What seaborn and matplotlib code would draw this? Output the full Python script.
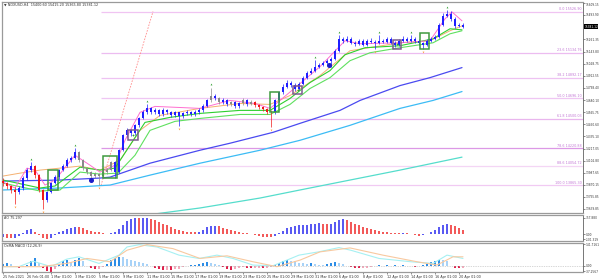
import matplotlib
matplotlib.use("Agg")
import matplotlib.pyplot as plt
import matplotlib.transforms as mtransforms
from matplotlib.patches import Rectangle
import numpy as np
import seaborn as sns

sns.set_theme(style="white")
plt.rcParams["font.family"] = ["DejaVu Sans"]

# ---------------- data ----------------
symbol_title = "\u25bc NDXUSD,H4  15400.60 15415.20 15365.80 15381.12"
first_open = 13910
close = [
    13887, 13859, 13821, 13802, 13840, 13935, 14011, 14049, 13963, 13821,
    13725, 13802, 13887, 13944, 14011, 14049, 14106, 14125, 14182, 14106,
    14030, 13992, 13954, 13973, 13954, 13992, 14011, 14087, 13992, 14201,
    14344, 14391, 14363, 14439, 14505, 14563, 14601, 14563, 14582, 14543,
    14582, 14563, 14534, 14563, 14524, 14553, 14563, 14543, 14563, 14582,
    14620, 14677, 14724, 14696, 14658, 14677, 14639, 14658, 14620, 14648,
    14677, 14639, 14658, 14629, 14610, 14591, 14563, 14563, 14677, 14753,
    14810, 14848, 14829, 14791, 14838, 14895, 14943, 14962, 15000, 15019,
    15038, 15057, 15076, 15152, 15267, 15248, 15267, 15228, 15219, 15248,
    15209, 15248, 15238, 15228, 15248, 15238, 15267, 15228, 15209, 15248,
    15267, 15248, 15267, 15248, 15228, 15209, 15248, 15267, 15286, 15400,
    15485, 15504, 15457, 15390, 15400, 15381]
high = [
    13935, 13900, 13872, 13845, 13860, 13950, 14030, 14085, 14060, 13975,
    13835, 13815, 13900, 13965, 14025, 14070, 14125, 14150, 14220, 14195,
    14120, 14045, 14005, 13990, 13985, 14010, 14030, 14100, 14095, 14215,
    14360, 14410, 14400, 14455, 14520, 14590, 14640, 14610, 14600, 14595,
    14600, 14595, 14575, 14580, 14570, 14570, 14585, 14580, 14585, 14600,
    14640, 14695, 14800, 14740, 14710, 14700, 14690, 14675, 14670, 14665,
    14700, 14690, 14680, 14670, 14640, 14625, 14600, 14590, 14690, 14770,
    14830, 14870, 14865, 14840, 14850, 14910, 14960, 14985, 15060, 15035,
    15055, 15075, 15090, 15170, 15300, 15285, 15290, 15280, 15245, 15265,
    15260, 15262, 15270, 15255, 15300, 15265, 15285, 15280, 15245, 15265,
    15295, 15285, 15300, 15280, 15260, 15240, 15262, 15285, 15305, 15420,
    15510, 15540, 15530, 15470, 15420, 15415]
low = [
    13860, 13830, 13790, 13690, 13780, 13825, 13920, 13995, 13940, 13800,
    13640, 13710, 13790, 13875, 13930, 14000, 14040, 14090, 14115, 14090,
    14015, 13970, 13935, 13940, 13870, 13940, 13975, 14000, 13935, 13980,
    14190, 14330, 14340, 14350, 14425, 14495, 14550, 14545, 14550, 14525,
    14530, 14545, 14515, 14520, 14430, 14510, 14540, 14530, 14530, 14550,
    14570, 14610, 14665, 14680, 14640, 14645, 14620, 14625, 14600, 14605,
    14635, 14625, 14630, 14615, 14595, 14575, 14545, 14420, 14550, 14665,
    14740, 14800, 14810, 14770, 14780, 14825, 14885, 14930, 14950, 14985,
    15005, 15025, 15000, 15065, 15140, 15230, 15235, 15215, 15200, 15205,
    15195, 15200, 15225, 15170, 15215, 15225, 15230, 15215, 15190, 15200,
    15240, 15235, 15240, 15230, 15210, 15170, 15200, 15240, 15255, 15275,
    15390, 15470, 15440, 15370, 15380, 15365]
bar_trend = ("rrrr" "bbbb" "rrr" "bbbbbbbb" "ggggggggg"
             "bbbbbbbbbbbbbbbbbbbbbb" "bbgbgbbgbbgbg" "rrrrr"
             "bbbbbbbbbbbbbbbbbbbbbbbbbbbbbbbbbbbbbbbbbbbbbbbb")

# moving averages (bar index, price)
ma_green1_x = [0, 9.25, 13, 19.25, 24.25, 28, 31.75, 35.5, 41.75, 49.25, 59.25, 66.75, 71.75, 76.75, 81.75, 85.5, 90.5, 99.25, 107.5, 111.75, 114.75]
ma_green1_y = [13916, 13840, 13859, 14039, 14011, 14030, 14249, 14467, 14515, 14553, 14582, 14582, 14696, 14848, 14962, 15114, 15181, 15200, 15266, 15362, 15352]
ma_green2_x = [0, 9.25, 14.25, 19.25, 24.25, 28.75, 33, 36.75, 43, 49.25, 59.25, 66.75, 71.75, 76.75, 81.75, 86.75, 91.75, 99.25, 107.5, 111.75, 114.75]
ma_green2_y = [13887, 13811, 13821, 13992, 13973, 13982, 14153, 14391, 14477, 14505, 14543, 14543, 14639, 14791, 14895, 15057, 15133, 15181, 15228, 15314, 15343]
ma_blue_x = [0, 14.25, 24.25, 26.75, 36.75, 49.25, 56.75, 67.5, 74.25, 84.25, 89.25, 99.25, 106.75, 114.75]
ma_blue_y = [13906, 13916, 13935, 13944, 14077, 14201, 14268, 14372, 14458, 14582, 14677, 14819, 14895, 14991]
ma_sky_x = [0, 14.25, 26.75, 36.75, 49.25, 64.25, 74.25, 86.75, 99.25, 107.5, 114.75]
ma_sky_y = [13821, 13840, 13868, 13963, 14077, 14201, 14296, 14439, 14601, 14677, 14762]
ma_turq_x = [34.25, 49.25, 64.25, 74.25, 86.75, 99.25, 114.75]
ma_turq_y = [13573, 13649, 13744, 13821, 13916, 14011, 14135]
ma_orange_x = [0, 4.25, 9.25, 14.25, 19.25, 24.25, 29.25, 34.25, 39.25, 49.25, 59.25, 66.75, 71.75, 79.25, 86.75, 99.25, 106.75, 111.75, 114.75]
ma_orange_y = [13954, 13982, 14011, 14030, 14049, 14011, 14106, 14391, 14534, 14601, 14648, 14639, 14724, 14915, 15152, 15228, 15248, 15343, 15390]
ma_pink_x = [0, 3, 6, 8, 10.5, 13, 18, 21.75, 24.25, 28, 30.5, 34.25, 38, 49.25, 56.75, 63, 66.75, 69.25, 74.25, 79.25, 85.5, 89.25, 99.25, 106.75, 110.5, 112.25, 114.75]
ma_pink_y = [13897, 13840, 14030, 14011, 13868, 13916, 14153, 14058, 13992, 14058, 14296, 14563, 14620, 14601, 14677, 14648, 14601, 14677, 14838, 15000, 15248, 15219, 15228, 15248, 15457, 15523, 15438]

# Fibonacci retracement
fib_ratios = ["0.0", "23.6", "38.2", "50.0", "61.8", "78.6", "88.6", "100.0"]
fib_prices = [15526.90, 15134.76, 14892.17, 14696.10, 14500.03, 14220.88, 14054.72, 13865.30]
fib_anchor_bars = [24.5, 37.5]
fib_anchor_prices = [13865.30, 15526.90]

# pattern boxes (bar from, bar to, price low, price high)
green_boxes = [(11.25, 13.75, 13821, 14011), (25, 28.5, 13935, 14144),
               (66.75, 69, 14563, 14753), (104.25, 106.5, 15171, 15324)]
purple_boxes = [(31.25, 33.75, 14296, 14391), (72.5, 74.75, 14743, 14819),
                (97.5, 99.5, 15171, 15257)]

signal_dot_bars = [22, 81.5]
signal_dot_prices = [13918, 15019]
up_fractal_bars = [7, 18, 36, 52, 78, 84, 94, 102, 111]
up_fractal_prices = [14115, 14250, 14670, 14830, 15090, 15330, 15330, 15330, 15570]
dn_fractal_bars = [3, 10, 24, 44, 67, 93, 105]
dn_fractal_prices = [13660, 13612, 13840, 14400, 14390, 15140, 15140]

price_ticks = [15609.15, 15493.90, 15261.35, 15143.80, 15028.75, 14912.55, 14798.40,
               14680.10, 14565.75, 14450.60, 14335.10, 14217.05, 14102.80, 13987.65,
               13870.15, 13755.85, 13639.85]
last_price_label = "15381.12"

# Awesome oscillator
ao = [-50, -70, -86, -80, -40, 30, 100, 115, 60, -20,
      -85, -101, -70, -20, 40, 80, 110, 140, 165, 160,
      130, 100, 70, 57, 40, 25, 15, 20, 40, 110,
      200, 290, 330, 345, 340, 350, 358, 335, 300, 265,
      230, 190, 150, 120, 93, 70, 55, 50, 45, 60,
      100, 150, 180, 186, 170, 145, 120, 95, 70, 50,
      35, 20, 5, -15, -35, -50, -60, -65, -40, 20,
      80, 130, 165, 186, 200, 205, 210, 215, 225, 237,
      232, 225, 230, 260, 300, 330, 310, 270, 230, 190,
      160, 130, 110, 90, 72, 55, 45, 35, 30, 25,
      30, 20, 5, -15, -29, -20, 10, 50, 100, 150,
      190, 215, 205, 170, 130, 95]
ao_ticks = [357.880, 0.0, -101.319]
ao_tick_labels = ["357.880", "0.00", "-101.319"]
ao_title = "AO 75.297"

# OsMA / MACD
osma = [12, 15, 8, -5, -13, -8, 5, 30, 48, 20,
        -15, -35, -39, -25, 10, 30, 37, 25, 35, 48,
        30, -5, -18, -22, -20, -10, 10, 35, 50, 59,
        55, 45, 38, 30, 22, 15, 8, -5, -15, -22,
        -28, -26, -28, -24, -20, -10, -3, 2, 5, 8,
        15, 22, 20, 12, 4, -8, -20, -28, -25, -18,
        -10, -14, -17, -15, -12, -17, -14, -8, 5, 20,
        30, 37, 32, 28, 20, 15, 12, 15, 10, 5,
        3, 8, 18, 22, 20, 10, -3, -10, -15, -17,
        -15, -12, -8, -4, 3, -3, 4, -5, 3, -4,
        2, -3, -5, -6, -4, 2, 12, 25, 33, 37,
        35, 28, -5, -12, -17, -15]
macd_x = [0, 4, 7.5, 12, 16, 19, 24, 29, 31, 34, 38.5, 44, 49, 53.5, 57.5, 62.5, 67.5, 72, 74, 79, 84, 87, 94, 102, 107.5, 111, 115]
macd_y = [-6, -6, 30, -6, 44, 59, 15, 70, 124, 139, 124, 70, 48, 70, 48, 4, 0, 48, 70, 92, 120, 102, 48, 26, 15, 70, 48]
signal_x = [0, 9.25, 16, 21, 26.75, 31, 36, 42.5, 49.25, 56, 62.5, 68.5, 74.25, 79.25, 86.75, 95, 103.5, 108.5, 112.5, 115]
signal_y = [-6.5, -6.5, 15.3, 48, 26.2, 102.5, 139.5, 113, 48, 65.4, 26.2, -6.5, 37, 91.6, 117.7, 69.8, 26.2, 4.4, 58.9, 58.9]
macd_ticks = [141.7161, 0.0, -37.2567]
macd_tick_labels = ["141.7161", "0.00", "-37.2567"]
macd_title = "OsMA MACD (12,26,9)"

date_tick_bars = [0, 6, 12, 18, 24, 30, 36, 42, 48, 54, 60, 66, 72, 78, 84, 90, 96, 102, 108, 114]
date_labels = ["25 Feb 2021", "26 Feb 01:00", "1 Mar 01:00", "3 Mar 01:00", "5 Mar 01:00",
               "9 Mar 01:00", "11 Mar 01:00", "15 Mar 01:00", "17 Mar 01:00", "19 Mar 01:00",
               "23 Mar 01:00", "25 Mar 01:00", "29 Mar 01:00", "31 Mar 01:00", "6 Apr 01:00",
               "8 Apr 01:00", "12 Apr 01:00", "14 Apr 01:00", "16 Apr 01:00", "20 Apr 01:00"]

# ---------------- figure ----------------
W, H = 600, 280
fig = plt.figure(figsize=(6, 2.8), dpi=100)
fig.patch.set_facecolor("white")

ax = fig.add_axes([2 / W, 1 - 213 / H, 581 / W, 211 / H])
ax_ao = fig.add_axes([2 / W, 1 - 241 / H, 581 / W, 26 / H], sharex=ax)
ax_m = fig.add_axes([2 / W, 1 - 272 / H, 581 / W, 29 / H], sharex=ax)

FS = 2.4
FSY = 2.1
TXT = "#333333"

def line(a, xs, ys, color, lw, **kw):
    sns.lineplot(x=xs, y=ys, ax=a, color=color, linewidth=lw, legend=False,
                 sort=False, **kw)

# --- main price panel ---
n = len(close)
bars = np.arange(n)
opens = [first_open] + close[:-1]
cl = np.array(close, dtype=float)
op = np.array(opens, dtype=float)
body_lo = np.minimum(op, cl)
body_h = np.maximum(np.abs(cl - op), 4.0)
cmap = {"b": "#1f1fff", "r": "#f01818", "g": "#8a8a8a"}
cols = [cmap[c] for c in bar_trend]

# fib lines
fib_colors = ["#f0c4f2", "#ecbcf0", "#eec2f2", "#efc6f3", "#e9b6ee", "#dc98e6", "#f4d6f5", "#f1caf3"]
ax.hlines(fib_prices, fib_anchor_bars[0], 145, colors=fib_colors, lw=0.9, zorder=1)
blend = mtransforms.blended_transform_factory(ax.transAxes, ax.transData)
for r, p in zip(fib_ratios, fib_prices):
    ax.text(0.997, p + 6, f"{r} {p:.2f}", transform=blend, ha="right", va="bottom",
            fontsize=FS, color="#c47ad6")
line(ax, fib_anchor_bars, fib_anchor_prices, "#ff8c8c", 0.6, linestyle=(0, (2, 1.5)))

# moving averages
line(ax, ma_turq_x, ma_turq_y, "#55ddcc", 0.9)
line(ax, ma_sky_x, ma_sky_y, "#3cbcf5", 0.9)
line(ax, ma_blue_x, ma_blue_y, "#4a4af0", 0.9)
line(ax, ma_orange_x, ma_orange_y, "#f5b070", 0.7)
line(ax, ma_green2_x, ma_green2_y, "#5fe05f", 0.8)
line(ax, ma_green1_x, ma_green1_y, "#2fcf2f", 0.8)

# candles
ax.vlines(bars, low, high, colors=cols, lw=0.5, zorder=3)
ax.bar(bars, body_h, bottom=body_lo, width=0.6, color=cols, linewidth=0, zorder=3)

line(ax, ma_pink_x, ma_pink_y, "#ff6fd0", 0.7)

# boxes
for x0, x1, lo, hi in green_boxes:
    ax.add_patch(Rectangle((x0, lo), x1 - x0, hi - lo, fill=False, ec="#3f9a3f", lw=1.1, zorder=5))
for x0, x1, lo, hi in purple_boxes:
    ax.add_patch(Rectangle((x0, lo), x1 - x0, hi - lo, fill=False, ec="#7b5c8e", lw=1.1, zorder=5))
    ax.plot([(x0 + x1) / 2], [(lo + hi) / 2], marker="+", ms=2, color="#2fa82f", mew=0.6, zorder=6)

ax.plot(signal_dot_bars, signal_dot_prices, "o", ms=2.6, color="#1d1dc8", zorder=6)
ax.plot(up_fractal_bars, up_fractal_prices, "^", ms=1.3, color="#2e9e2e", zorder=6, mew=0)
ax.plot(dn_fractal_bars, dn_fractal_prices, "v", ms=1.3, color="#ff9a3c", zorder=6, mew=0)

ax.set_xlim(-0.25, 145)
ax.set_ylim(13601, 15618)
ax.yaxis.tick_right()
ax.set_yticks(price_ticks)
ax.set_yticklabels([f"{v:.2f}" for v in price_ticks])
ax.text(1.002, close[-1], last_price_label, transform=blend, ha="left", va="center",
        fontsize=FSY, color="white",
        bbox=dict(boxstyle="square,pad=0.15", fc="black", ec="black", lw=0))
ax.text(0.004, 0.997, symbol_title, transform=ax.transAxes, ha="left", va="top",
        fontsize=FS, color=TXT)

# --- AO panel ---
ao_cols = ["#5a5af2" if i == 0 or ao[i] >= ao[i - 1] else "#f25a5a" for i in range(n)]
ax_ao.bar(bars, ao, width=0.5, color=ao_cols, linewidth=0)
ax_ao.set_ylim(-144, 415)
ax_ao.yaxis.tick_right()
ax_ao.set_yticks(ao_ticks)
ax_ao.set_yticklabels(ao_tick_labels)
ax_ao.text(0.004, 0.95, ao_title, transform=ax_ao.transAxes, ha="left", va="top",
           fontsize=FS, color=TXT)

# --- OsMA / MACD panel ---
def osma_color(i):
    v = osma[i]
    prev = osma[i - 1] if i > 0 else 0
    if v >= 0:
        return "#2d8de6" if v >= prev else "#a8d2f7"
    return "#e0214c" if v <= prev else "#f4a9bb"
m_cols = [osma_color(i) for i in range(n)]
ax_m.axhline(0, color="#b0b0b0", lw=0.5, ls=(0, (1, 1.5)))
ax_m.bar(bars, osma, width=0.5, color=m_cols, linewidth=0)
line(ax_m, macd_x, macd_y, "#a6f0f2", 0.8)
line(ax_m, signal_x, signal_y, "#f8c9a0", 0.8)
ax_m.set_ylim(-41.7, 150.3)
ax_m.yaxis.tick_right()
ax_m.set_yticks(macd_ticks)
ax_m.set_yticklabels(macd_tick_labels)
ax_m.text(0.004, 0.95, macd_title, transform=ax_m.transAxes, ha="left", va="top",
          fontsize=FS, color=TXT)
ax_m.set_xticks(date_tick_bars)
ax_m.set_xticklabels(date_labels, ha="left")

for a in (ax, ax_ao, ax_m):
    a.set_facecolor("white")
    a.set_xlabel("")
    a.set_ylabel("")
    for s in a.spines.values():
        s.set_color("#9a9a9a")
        s.set_linewidth(0.9)
    a.spines["right"].set_color("#606060")
    a.spines["right"].set_linewidth(0.6)
    a.tick_params(axis="y", which="both", right=True, left=False, labelright=True,
                  labelleft=False, labelsize=FSY, length=1.2, width=0.4, pad=0.5,
                  colors=TXT)
    a.grid(False)
# keep the topmost price label inside the figure
ax.get_yticklabels()[0].set_verticalalignment("top")
ax.tick_params(axis="x", bottom=False, labelbottom=False)
ax_ao.tick_params(axis="x", bottom=False, labelbottom=False)
ax_m.tick_params(axis="x", bottom=True, labelbottom=True, labelsize=FS, length=1.5,
                 width=0.4, pad=0.8, colors=TXT)

fig.savefig("out.png", dpi=100, facecolor="white")
